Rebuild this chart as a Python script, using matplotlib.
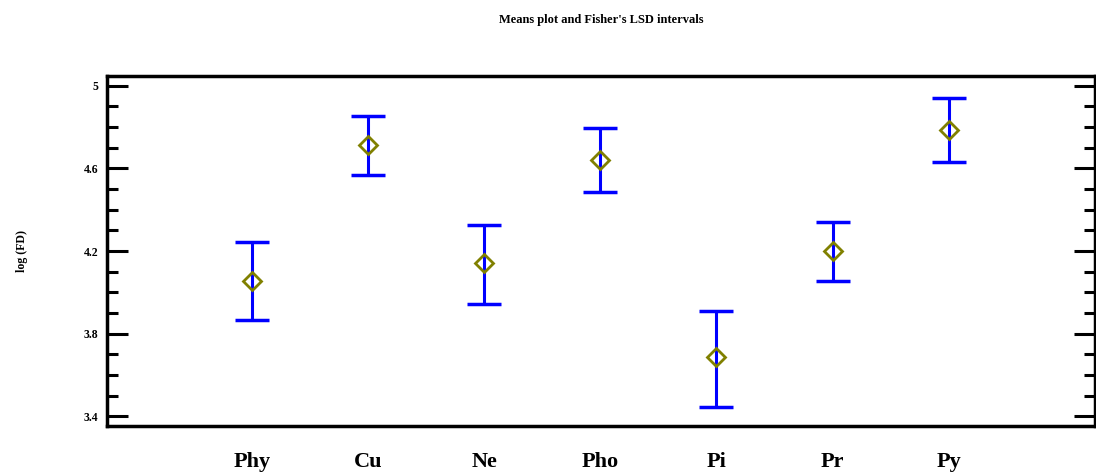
import matplotlib
matplotlib.use("Agg")
import matplotlib.pyplot as plt
import numpy as np
from matplotlib.ticker import MultipleLocator

# data
groups = ["Phy", "Cu", "Ne", "Pho", "Pi", "Pr", "Py"]
means = [4.055, 4.713, 4.142, 4.641, 3.687, 4.200, 4.785]
upper = [4.244, 4.853, 4.326, 4.795, 3.910, 4.340, 4.940]
lower = [3.867, 4.568, 3.944, 4.486, 3.446, 4.055, 4.630]

plt.rcParams['font.family'] = ['Liberation Serif', 'DejaVu Serif']
plt.rcParams['font.weight'] = 'bold'

fig = plt.figure(figsize=(10.96, 4.75), dpi=100)
ax = fig.add_axes([0.0976, 0.1038, 0.9014, 0.736])

x = np.arange(len(groups))
m = np.array(means)
err = [m - np.array(lower), np.array(upper) - m]

ax.errorbar(x, m, yerr=err, fmt='none', ecolor='#0000ff', elinewidth=2.2,
            capsize=12, capthick=2.5, zorder=2)
ax.plot(x, m, linestyle='none', marker='D', markersize=9.5,
        markerfacecolor='none', markeredgecolor='#808000',
        markeredgewidth=2.0, zorder=3)

ax.set_xlim(-1.25, 7.26)
ax.set_ylim(3.355, 5.047)
ax.set_xticks(x)
ax.set_xticklabels(groups, fontsize=16, fontweight='bold')
ax.tick_params(axis='x', length=0, pad=19)

ax.yaxis.set_major_locator(MultipleLocator(0.4))
ax.yaxis.set_minor_locator(MultipleLocator(0.1))
ax.set_yticks([3.4, 3.8, 4.2, 4.6, 5.0])
ax.set_yticklabels(["3.4", "3.8", "4.2", "4.6", "5"], fontsize=8.5, fontweight='bold')
ax.tick_params(axis='y', which='major', direction='in', length=15, width=2.2,
               left=True, right=True, pad=6)
ax.tick_params(axis='y', which='minor', direction='in', length=8, width=2.2,
               left=True, right=True)

for sp in ax.spines.values():
    sp.set_linewidth(2.5)

ax.set_ylabel("log (FD)", fontsize=8.5, fontweight='bold', labelpad=40)
ax.set_title("Means plot and Fisher's LSD intervals", fontsize=9,
             fontweight='bold', pad=38)

fig.savefig("out.png", dpi=100)
